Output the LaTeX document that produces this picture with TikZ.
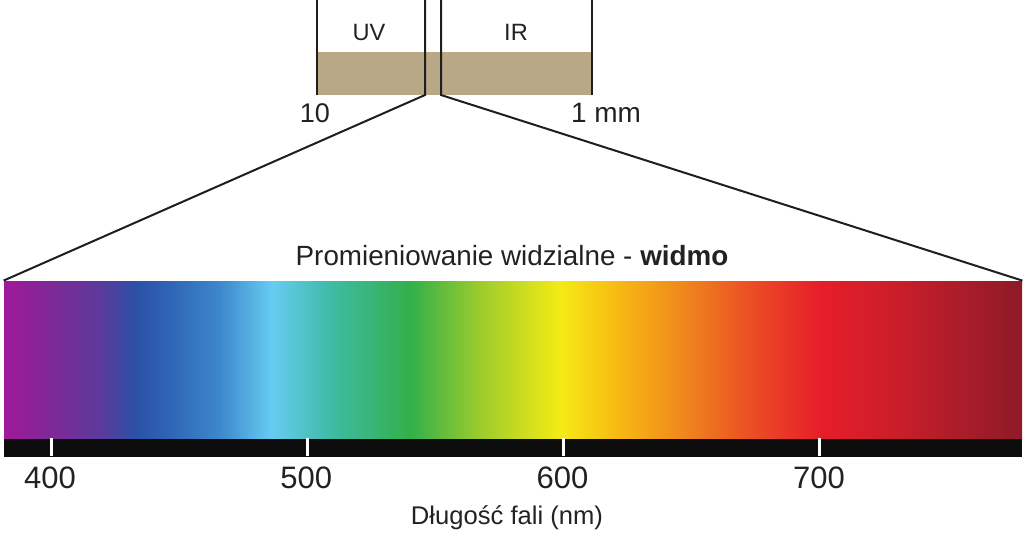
\documentclass[tikz,border=0pt]{standalone}
\usepackage{fontspec}
\setmainfont{Liberation Sans}
\usepackage{xcolor}
\usepackage{tikz}
\usetikzlibrary{positioning,calc}
\definecolor{piasek}{HTML}{B9A886}
\definecolor{linia}{HTML}{1E1E1E}
\definecolor{tekst}{HTML}{222222}
\definecolor{w01}{HTML}{A0199A}
\definecolor{w02}{HTML}{7F2896}
\definecolor{w03}{HTML}{5C3A9C}
\definecolor{w04}{HTML}{2C50A6}
\definecolor{w05}{HTML}{2F65B5}
\definecolor{w06}{HTML}{3D88CC}
\definecolor{w07}{HTML}{66CCF2}
\definecolor{w08}{HTML}{3FBBA6}
\definecolor{w09}{HTML}{32B04A}
\definecolor{w10}{HTML}{9CCC2C}
\definecolor{w11}{HTML}{F5EB14}
\definecolor{w12}{HTML}{F8B714}
\definecolor{w13}{HTML}{F08A1C}
\definecolor{w14}{HTML}{EB4E24}
\definecolor{w15}{HTML}{E61E2A}
\definecolor{w16}{HTML}{C81E2A}
\definecolor{w17}{HTML}{8E1A28}
\pgfdeclarehorizontalshading{widmo}{100bp}{%
  color(0bp)=(w01); color(25bp)=(w01); color(27.26bp)=(w02); color(29.71bp)=(w03);
  color(31.43bp)=(w04); color(33.15bp)=(w05); color(35.61bp)=(w06); color(38.16bp)=(w07);
  color(41.01bp)=(w08); color(44.94bp)=(w09); color(48.38bp)=(w10); color(52.31bp)=(w11);
  color(55.26bp)=(w12); color(58.20bp)=(w13); color(61.64bp)=(w14); color(65.08bp)=(w15);
  color(69.01bp)=(w16); color(75bp)=(w17); color(100bp)=(w17)}
\newcommand{\fs}[1]{\fontsize{#1}{#1}\selectfont}

\begin{document}
\begin{tikzpicture}[
  x=0.5pt, y=-0.5pt, line join=miter,
  frame/.style={draw=linia, line width=1pt},
  lbl/.style={inner sep=0pt, anchor=base, text=tekst},
  spectrum/.style={shade, shading=widmo, inner sep=0pt, minimum width=509pt, minimum height=78.5pt},
  scale bar/.style={fill=black!95, inner sep=0pt, minimum width=509pt, minimum height=9pt},
  tickmark/.style={draw=white, line width=1.5pt},
]
\useasboundingbox (0,0) rectangle (1024,536);

\node[spectrum] (vis) at (513,359.5) {};
\node[scale bar, below=0pt of vis] (skala) {};

\fill[piasek] (317,52) rectangle (592,95);
\draw[frame] (317,0) -- (317,95);
\draw[frame] (592,0) -- (592,95);
\draw[frame] (425,0) -- (425,95) -- (vis.north west);
\draw[frame] (441,0) -- (441,95) -- (vis.north east);

\node[lbl, font=\fs{11.8}] (uv) at (369,40) {UV};
\node[lbl, font=\fs{11.8}] (ir) at (516,40) {IR};
\node[lbl, font=\fs{13.5}] (od) at (315,122) {10};
\node[lbl, font=\fs{14}] (do) at (606,122) {1 mm};

\node[lbl, font=\fs{13.9}] (tytul) at (512,265) {Promieniowanie widzialne - \textbf{widmo}};

\foreach \nm in {400,500,600,700} {
  \draw[tickmark] ({51+(\nm-400)*2.563},438) -- ++(0,18);
  \node[lbl, font=\fs{15.5}] (l\nm) at ({50+(\nm-400)*2.563},488) {\nm};
}
\node[lbl, font=\fs{12.8}] (os) at (507,524) {Długość fali (nm)};
\end{tikzpicture}
\end{document}
